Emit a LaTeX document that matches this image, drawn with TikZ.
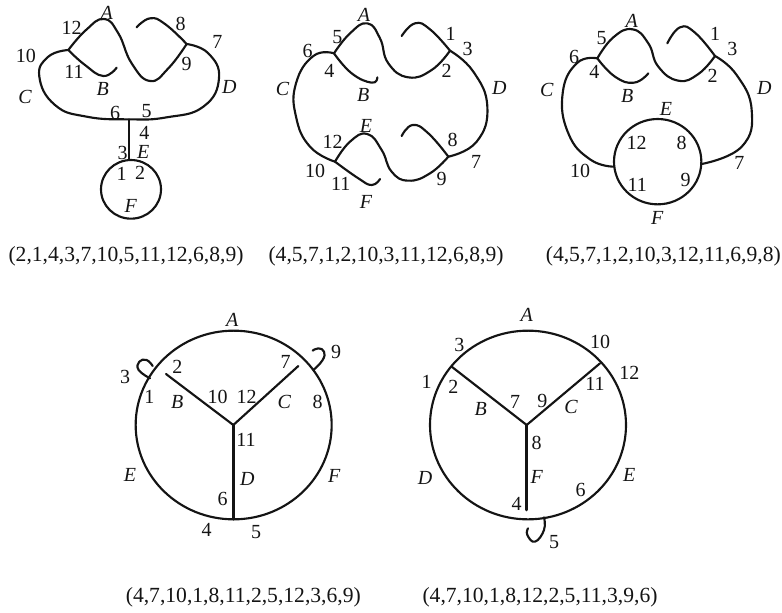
\documentclass[tikz,border=0pt]{standalone}
\usepackage{fontspec}
\setmainfont{Liberation Serif}
\definecolor{ink}{gray}{0.08}
\tikzset{
  wire/.style={draw=ink,line width=1.6pt,line cap=round,line join=round},
  curve/.style={wire,smooth,tension=0.8},
  numlab/.style={inner sep=0pt,text=ink,font=\fontsize{15}{15}\selectfont},
  letlab/.style={inner sep=0pt,text=ink,font=\fontsize{15}{15}\selectfont\itshape},
  captxt/.style={inner sep=0pt,text=ink,font=\fontsize{16.2}{17}\selectfont}
}
\newcommand{\N}[4]{\node[numlab] (#1) at (#2,#3) {#4};}
\newcommand{\Lt}[4]{\node[letlab] (#1) at (#2,#3) {#4};}
\begin{document}
\begin{tikzpicture}[x=0.25pt,y=-0.25pt]
\useasboundingbox (0,0) rectangle (2346,1836);
% ---------- panel 1
\begin{scope}
\coordinate (pa) at (205,150);
\coordinate (pb) at (560,132);
\coordinate (pc) at (388,358);
\coordinate (pd) at (388,480);
\draw[curve] plot coordinates {(pa) (258,90) (312,57) (355,100) (395,190) (450,243) (505,205) (pb)};
\draw[curve] plot coordinates {(410,82) (450,55) (495,72) (pb)};
\draw[curve] plot coordinates {(pb) (625,160) (657,235) (610,320) (500,352) (pc) (260,350) (165,315) (118,230) (145,170) (pa)};
\draw[curve] plot coordinates {(pa) (255,195) (310,228) (350,203)};
\draw[wire] (pc) -- (pd);
\draw[wire] (393,568) ellipse[x radius=90,y radius=88];
\Lt{a1}{320}{38}{A}\N{a12}{215}{85}{12}\N{a10}{78}{168}{10}\N{a11}{222}{215}{11}\Lt{b1}{308}{268}{B}\Lt{c1}{75}{292}{C}
\N{a8}{542}{72}{8}\N{a7}{652}{125}{7}\N{a9}{560}{192}{9}\Lt{d1}{688}{262}{D}\N{a6}{345}{338}{6}\N{a5}{440}{332}{5}
\N{a4}{433}{400}{4}\N{a3}{368}{460}{3}\Lt{e1}{430}{455}{E}\N{an1}{365}{522}{1}\N{a2}{420}{520}{2}\Lt{f1}{392}{618}{F}
\node[captxt] (capa) at (378,770) {(2,1,4,3,7,10,5,11,12,6,8,9)};
\end{scope}
% ---------- panel 2
\begin{scope}[shift={(780,0)}]
\coordinate (qa) at (222,160);
\coordinate (qb) at (570,152);
\coordinate (qc) at (225,485);
\coordinate (qd) at (565,470);
\draw[curve] plot coordinates {(qa) (270,100) (322,70) (360,115) (385,190) (445,232) (515,210) (qb)};
\draw[curve] plot coordinates {(425,108) (465,70) (510,88) (qb)};
\draw[curve] plot coordinates {(qb) (640,215) (682,320) (650,425) (qd)};
\draw[curve] plot coordinates {(qa) (160,168) (108,250) (108,350) (150,440) (qc)};
\draw[curve] plot coordinates {(qa) (275,220) (335,248) (352,232)};
\draw[curve] plot coordinates {(qc) (270,425) (322,402) (365,450) (395,515) (445,542) (510,520) (qd)};
\draw[curve] plot coordinates {(425,408) (458,375) (505,400) (qd)};
\draw[curve] plot coordinates {(qc) (295,535) (335,555) (360,537)};
\Lt{a2l}{312}{45}{A}\N{b5}{232}{112}{5}\N{b6}{143}{153}{6}\N{b4}{208}{213}{4}\Lt{b2l}{310}{285}{B}\Lt{c2l}{68}{267}{C}
\N{bn1}{572}{102}{1}\N{b3}{623}{148}{3}\N{bn2}{560}{212}{2}\Lt{d2l}{718}{265}{D}\N{b12}{218}{425}{12}\Lt{e2l}{318}{377}{E}
\N{b8}{578}{420}{8}\N{b7}{648}{487}{7}\N{b10}{165}{512}{10}\N{b11}{242}{553}{11}\N{b9}{545}{537}{9}\Lt{f2l}{318}{605}{F}
\node[captxt] (capb) at (378,770) {(4,5,7,1,2,10,3,11,12,6,8,9)};
\end{scope}
% ---------- panel 3
\begin{scope}[shift={(1560,0)}]
\coordinate (ra) at (232,175);
\coordinate (rb) at (585,168);
\coordinate (rc) at (282,500);
\coordinate (rd) at (545,492);
\draw[curve] plot coordinates {(ra) (280,112) (338,88) (385,130) (415,200) (475,242) (535,222) (rb)};
\draw[curve] plot coordinates {(442,130) (480,82) (525,98) (rb)};
\draw[curve] plot coordinates {(rb) (650,225) (695,330) (665,440) (rd)};
\draw[curve] plot coordinates {(ra) (170,190) (128,280) (145,400) (210,478) (rc)};
\draw[curve] plot coordinates {(ra) (285,230) (342,248) (385,220)};
\draw[wire] (413,485) ellipse[x radius=131,y radius=128];
\Lt{a3l}{335}{62}{A}\N{c5}{245}{115}{5}\N{c6}{162}{170}{6}\N{c4}{223}{215}{4}\Lt{b3l}{322}{288}{B}\Lt{c3l}{80}{270}{C}
\N{cn1}{585}{102}{1}\N{c3}{637}{148}{3}\N{cn2}{578}{228}{2}\Lt{d3l}{733}{265}{D}\Lt{e3l}{438}{327}{E}\N{c12}{350}{430}{12}
\N{c8}{485}{428}{8}\N{c10}{180}{513}{10}\N{c11}{352}{555}{11}\N{c9}{497}{540}{9}\N{c7}{658}{488}{7}\Lt{f3l}{412}{655}{F}
\node[captxt] (capc) at (430,770) {(4,5,7,1,2,10,3,12,11,6,9,8)};
\end{scope}
% ---------- panel 4
\begin{scope}[shift={(300,840)}]
\coordinate (sc) at (400,435);
\coordinate (sb) at (198,282);
\coordinate (sd) at (595,258);
\coordinate (se) at (400,718);
\draw[wire] (401,435) ellipse[x radius=294,y radius=283];
\draw[wire] (sc) -- (sb);
\draw[wire] (sc) -- (sd);
\draw[wire,line width=1.9pt] (sc) -- (se);
\draw[curve] plot coordinates {(150,295) (116,270) (118,245) (140,240) (158,258)};
\draw[curve] plot coordinates {(640,270) (668,240) (672,215) (655,205) (638,212)};
\Lt{a4l}{397}{120}{A}\N{d3}{75}{292}{3}\N{d2}{232}{260}{2}\N{dn1}{148}{350}{1}\Lt{b4l}{232}{365}{B}\N{d10}{353}{350}{10}
\N{d12}{440}{352}{12}\N{d7}{557}{247}{7}\N{d9}{708}{215}{9}\Lt{c4l}{553}{365}{C}\N{d8}{653}{365}{8}\N{d11}{438}{480}{11}
\Lt{e4l}{90}{585}{E}\Lt{d4l}{442}{597}{D}\Lt{f4l}{703}{588}{F}\N{d6}{368}{658}{6}\N{d4}{320}{750}{4}\N{d5}{468}{755}{5}
\node[captxt] (capd) at (430,952) {(4,7,10,1,8,11,2,5,12,3,6,9)};
\end{scope}
% ---------- panel 5
\begin{scope}[shift={(1170,840)}]
\coordinate (tc) at (410,435);
\coordinate (tb) at (185,260);
\coordinate (td) at (630,250);
\coordinate (te) at (410,690);
\draw[wire] (414,435) ellipse[x radius=294,y radius=283];
\draw[wire] (tc) -- (tb);
\draw[wire] (tc) -- (td);
\draw[wire,line width=1.9pt] (tc) -- (te);
\draw[curve] plot coordinates {(462,712) (462,750) (435,785) (412,765) (414,745)};
\Lt{a5l}{410}{105}{A}\N{e3}{208}{195}{3}\N{e10}{630}{185}{10}\N{e12}{718}{278}{12}\N{en1}{110}{305}{1}\N{en2}{190}{322}{2}
\N{e11}{615}{312}{11}\N{e7}{375}{365}{7}\N{e9}{457}{362}{9}\Lt{b5l}{272}{388}{B}\Lt{c5l}{543}{382}{C}\N{e8}{440}{490}{8}
\Lt{d5l}{105}{595}{D}\Lt{f5l}{440}{590}{F}\Lt{e5l}{718}{585}{E}\N{e6}{572}{630}{6}\N{e4}{380}{672}{4}\N{e5}{492}{787}{5}
\node[captxt] (cape) at (450,952) {(4,7,10,1,8,12,2,5,11,3,9,6)};
\end{scope}
\end{tikzpicture}
\end{document}
